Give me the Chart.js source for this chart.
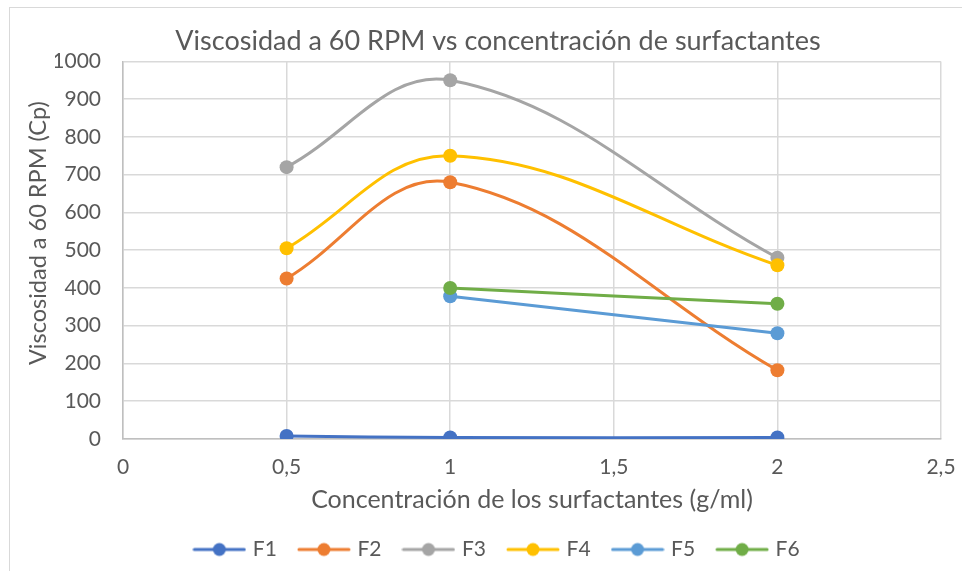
<!DOCTYPE html>
<html lang="es">
<head>
<meta charset="utf-8">
<title>Viscosidad a 60 RPM vs concentración de surfactantes</title>
<script src="https://cdn.jsdelivr.net/npm/chart.js@4.4.1/dist/chart.umd.min.js"></script>
<style>
  html, body { margin: 0; padding: 0; background: #fff; overflow: hidden; }
  #marco { position: absolute; left: 9px; top: 7px; width: 1000px; height: 620px; border: 1px solid #d9d9d9; }
  #contenedor { position: absolute; left: 0; top: 0; width: 992px; height: 590px; }
</style>
</head>
<body>
<div id="marco"></div>
<div id="contenedor"><canvas id="graficoViscosidad"></canvas></div>
<script>
// Concentración de surfactantes (g/ml)
const concF1aF4 = [0.5, 1, 2];
const concF5F6 = [1, 2];

// Viscosidad a 60 RPM (Cp)
const viscF1 = [8, 4, 4];
const viscF2 = [425, 680, 182];
const viscF3 = [720, 950, 480];
const viscF4 = [505, 750, 460];
const viscF5 = [378, 280];
const viscF6 = [400, 358];

const nombres = ["F1", "F2", "F3", "F4", "F5", "F6"];
const colores = ["#4472c4", "#ed7d31", "#a5a5a5", "#ffc000", "#5b9bd5", "#70ad47"];

const ticksX = [0, 0.5, 1, 1.5, 2, 2.5];
const ticksY = [0, 100, 200, 300, 400, 500, 600, 700, 800, 900, 1000];

const fuente = "Lato, 'Open Sans', sans-serif";
const gris = "#595959";

function puntos(xs, ys) {
  return xs.map((x, i) => ({ x: x, y: ys[i] }));
}

const series = [
  puntos(concF1aF4, viscF1),
  puntos(concF1aF4, viscF2),
  puntos(concF1aF4, viscF3),
  puntos(concF1aF4, viscF4),
  puntos(concF5F6, viscF5),
  puntos(concF5F6, viscF6)
];

// muestra de la leyenda: línea con el marcador en medio
function muestraLeyenda(color) {
  const c = document.createElement("canvas");
  c.width = 54;
  c.height = 16;
  const g = c.getContext("2d");
  g.strokeStyle = color;
  g.lineWidth = 3;
  g.lineCap = "round";
  g.beginPath();
  g.moveTo(2, 8);
  g.lineTo(52, 8);
  g.stroke();
  g.fillStyle = color;
  g.beginPath();
  g.arc(27, 8, 6.5, 0, Math.PI * 2);
  g.fill();
  return c;
}

// título del eje Y, algo por encima del centro del área de trazado
const tituloEjeY = {
  id: "tituloEjeY",
  afterDraw(chart) {
    const { ctx, chartArea } = chart;
    ctx.save();
    ctx.translate(38, (chartArea.top + chartArea.bottom) / 2 - 17);
    ctx.rotate(-Math.PI / 2);
    ctx.font = "23.5px " + fuente;
    ctx.fillStyle = gris;
    ctx.textAlign = "center";
    ctx.textBaseline = "middle";
    ctx.fillText("Viscosidad a 60 RPM (Cp)", 0, 0);
    ctx.restore();
  }
};

new Chart(document.getElementById("graficoViscosidad"), {
  type: "scatter",
  data: {
    datasets: series.map((datos, i) => ({
      label: nombres[i],
      data: datos,
      showLine: true,
      tension: 0.38,
      borderColor: colores[i],
      backgroundColor: colores[i],
      borderWidth: 3,
      pointRadius: 7,
      pointHoverRadius: 7,
      pointBorderWidth: 0,
      order: series.length - i
    }))
  },
  options: {
    responsive: true,
    maintainAspectRatio: false,
    animation: false,
    layout: { padding: { top: 15, left: 55, right: 51, bottom: 20 } },
    plugins: {
      tooltip: { enabled: false },
      title: {
        display: true,
        text: "Viscosidad a 60 RPM vs concentración de surfactantes",
        color: gris,
        font: { family: fuente, size: 27, weight: "normal" },
        padding: { top: 10, bottom: 4 }
      },
      legend: {
        position: "bottom",
        labels: {
          color: gris,
          font: { family: fuente, size: 21 },
          usePointStyle: true,
          pointStyleWidth: 46,
          padding: 24,
          sort: (a, b) => a.datasetIndex - b.datasetIndex,
          generateLabels(chart) {
            const items = Chart.defaults.plugins.legend.labels.generateLabels(chart);
            items.forEach(it => { it.pointStyle = muestraLeyenda(colores[it.datasetIndex]); });
            return items;
          }
        }
      }
    },
    scales: {
      x: {
        type: "linear",
        min: 0,
        max: 2.5,
        afterBuildTicks: s => { s.ticks = ticksX.map(v => ({ value: v })); },
        afterFit: s => { s.height = 76; s.paddingLeft = 0; s.paddingRight = 0; },
        ticks: {
          color: gris,
          font: { family: fuente, size: 21 },
          padding: 16,
          callback: v => String(v).replace(".", ",")
        },
        grid: { color: "#d9d9d9", lineWidth: 1.5, drawTicks: false },
        border: { color: "#bfbfbf", width: 1.5 },
        title: {
          display: true,
          text: "Concentración de los surfactantes (g/ml)",
          color: gris,
          font: { family: fuente, size: 25 },
          padding: { top: 0, bottom: 0 }
        }
      },
      y: {
        min: 0,
        max: 1000,
        afterBuildTicks: s => { s.ticks = ticksY.map(v => ({ value: v })); },
        afterFit: s => { s.width = 68; },
        ticks: {
          color: gris,
          font: { family: fuente, size: 21 },
          padding: 22,
          callback: v => String(v)
        },
        grid: { color: "#d9d9d9", lineWidth: 1.5, drawTicks: false },
        border: { color: "#bfbfbf", width: 1.5 }
      }
    }
  },
  plugins: [tituloEjeY]
});
</script>
</body>
</html>
